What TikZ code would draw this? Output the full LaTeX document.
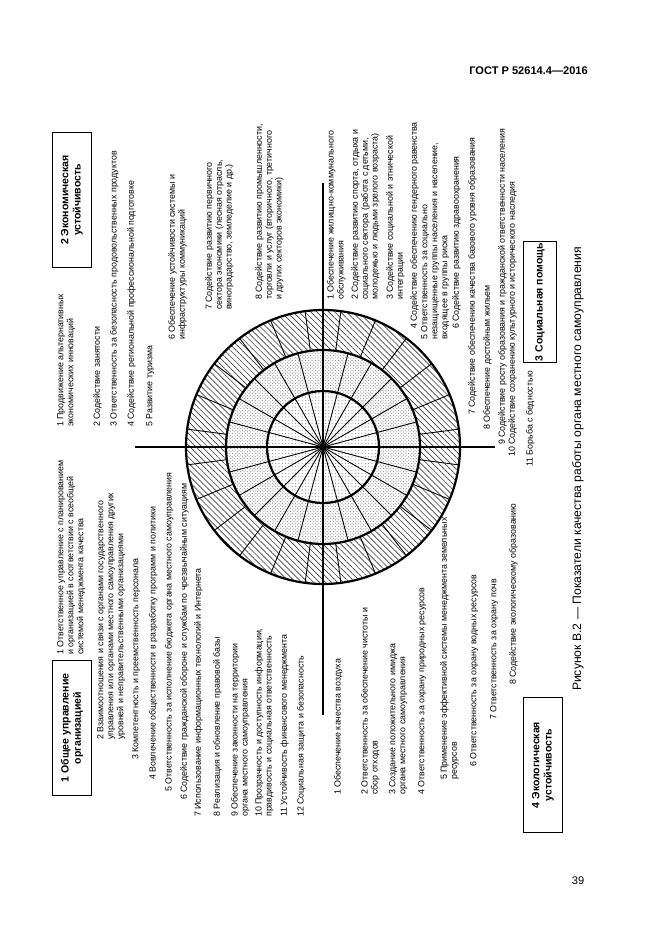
\documentclass[tikz,border=0pt]{standalone}
\usepackage{fontspec}
\setmainfont{Liberation Sans}
\usetikzlibrary{patterns,patterns.meta}

\begin{document}
\begin{tikzpicture}[x=0.3175mm, y=-0.3175mm]
\tikzstyle{item}=[anchor=north west, align=left, inner sep=0pt, font=\fontsize{8}{9}\selectfont]
\tikzstyle{grp}=[draw, line width=0.8pt, align=center, inner sep=1pt, minimum width=43mm, minimum height=12.5mm, font=\fontsize{9.5}{11}\selectfont\bfseries]
\tikzstyle{thickline}=[line width=2pt]
\tikzstyle{thinline}=[line width=0.8pt]
\useasboundingbox (0,0) rectangle (661,935);
\node[anchor=base east, inner sep=0pt, font=\fontsize{10}{12}\selectfont\bfseries] (head) at (588,74) {ГОСТ Р 52614.4—2016};
\node[anchor=base, inner sep=0pt, font=\fontsize{10}{12}\selectfont] (pnum) at (578,884) {39};
% circle
\coordinate (c) at (323,447);
\fill[pattern={Lines[angle=-45, distance=3.8pt, line width=0.6pt]}, pattern color=black!75] (c) circle[radius=137];
\fill[white] (c) circle[radius=97];
\fill[pattern=crosshatch dots, pattern color=black!50] (c) circle[radius=97];
\fill[white] (c) circle[radius=56];
\fill[pattern=dots, pattern color=black!45] (c) circle[radius=56];
\foreach \a in {0,15,...,345}
  \draw[thinline] (c) -- ++(\a:97);
\foreach \a in {7.5,22.5,...,352.5}
  \draw[thinline] (c) ++(\a:97) -- ++(\a:40);
\draw[thickline] (c) circle[radius=56] (c) circle[radius=97] (c) circle[radius=137];
\begin{scope}[shift={(0,935)}, rotate=90, every node/.append style={transform shape}]
\coordinate (axW) at (220,323);
\coordinate (axE) at (752,323);
\coordinate (axN) at (488,135);
\coordinate (axS) at (488,495);
\draw[thickline] (axW) -- (axE);
\draw[thickline] (axN) -- (axS);
% 1
\node[grp] (box1) at (207,72) {1 Общее управление\\организацией};
\node[item] (a1) at (280,57) {1 Ответственное управление с планированием\\и организацией в соответствии с всеобщей\\системой менеджмента качества};
\node[item] (a2) at (195,97) {2 Взаимоотношения и связи с органами государственного\\управления или органами местного самоуправления других\\уровней и неправительственными организациями};
\node[item] (a3) at (175,132) {3 Компетентность и преемственность персонала};
\node[item] (a4) at (155,149) {4 Вовлечение общественности в разработку программ и политики};
\node[item] (a5) at (143,165) {5 Ответственность за исполнение бюджета органа местного самоуправления};
\node[item] (a6) at (135,180) {6 Содействие гражданской обороне и службам по чрезвычайным ситуациям};
\node[item] (a7) at (118,194) {7 Использование информационных технологий и Интернета};
\node[item] (a8) at (118,213) {8 Реализация и обновление правовой базы};
\node[item] (a9) at (118,231) {9 Обеспечение законности на территории\\органа местного самоуправления};
\node[item] (a10) at (118,255) {10 Прозрачность и доступность информации,\\правдивость и социальная ответственность};
\node[item] (a11) at (118,280) {11 Устойчивость финансового менеджмента};
\node[item] (a12) at (118,297) {12 Социальная защита и безопасность};
% 2
\node[grp] (box2) at (735,72) {2 Экономическая\\устойчивость};
\node[item] (b1) at (508,57) {1 Продвижение альтернативных\\экономических инноваций};
\node[item] (b2) at (508,93) {2 Содействие занятости};
\node[item] (b3) at (508,110) {3 Ответственность за безопасность продовольственных продуктов};
\node[item] (b4) at (508,127) {4 Содействие региональной профессиональной подготовке};
\node[item] (b5) at (508,146) {5 Развитие туризма};
\node[item] (b6) at (595,168) {6 Обеспечение устойчивости системы и\\инфраструктуры коммуникаций};
\node[item] (b7) at (625,205) {7 Содействие развитию первичного\\сектора экономики (лесная отрасль,\\виноградарство, земледелие и др.)};
\node[item] (b8) at (635,255) {8 Содействие развитию промышленности,\\торговли и услуг (вторичного, третичного\\и других секторов экономики)};
% 3
\node[grp, minimum width=37.5mm, minimum height=10.5mm] (box3) at (633,540) {3 Социальная помощь};
\node[item] (c1) at (635,327) {1 Обеспечение жилищно-коммунального\\обслуживания};
\node[item] (c2) at (635,351) {2 Содействие развитию спорта, отдыха и\\социального сектора (работа с детьми,\\молодежью и людьми зрелого возраста)};
\node[item] (c3) at (635,386) {3 Содействие социальной и этнической\\интеграции};
\node[item] (c4) at (606,410) {4 Содействие обеспечению гендерного равенства};
\node[item] (c5) at (595,421) {5 Ответственность за социально\\незащищенные группы населения и население,\\входящее в группы риска};
\node[item] (c6) at (606,452) {6 Содействие развитию здравоохранения};
\node[item] (c7) at (520,468) {7 Содействие обеспечению качества базового уровня образования};
\node[item] (c8) at (505,483) {8 Обеспечение достойным жильем};
\node[item] (c9) at (490,498) {9 Содействие росту образования и гражданской ответственности населения};
\node[item] (c10) at (478,508) {10 Содействие сохранению культурного и исторического наследия};
\node[item] (c11) at (468,526) {11 Борьба с бедностью};
% 4
\node[grp] (box4) at (170,543) {4 Экологическая\\устойчивость};
\node[item] (d1) at (140,334) {1 Обеспечение качества воздуха};
\node[item] (d2) at (140,361) {2 Ответственность за обеспечение чистоты и\\сбор отходов};
\node[item] (d3) at (140,389) {3 Создание положительного имиджа\\органа местного самоуправления};
\node[item] (d4) at (140,418) {4 Ответственность за охрану природных ресурсов};
\node[item] (d5) at (155,440) {5 Применение эффективной системы менеджмента земельных\\ресурсов};
\node[item] (d6) at (168,470) {6 Ответственность за охрану водных ресурсов};
\node[item] (d7) at (215,490) {7 Ответственность за охрану почв};
\node[item] (d8) at (250,509) {8 Содействие экологическому образованию};
% caption
\node[font=\fontsize{11}{13}\selectfont, inner sep=0pt] (cap) at (466,578) {Рисунок В.2 — Показатели качества работы органа местного самоуправления};
\end{scope}
\end{tikzpicture}
\end{document}
